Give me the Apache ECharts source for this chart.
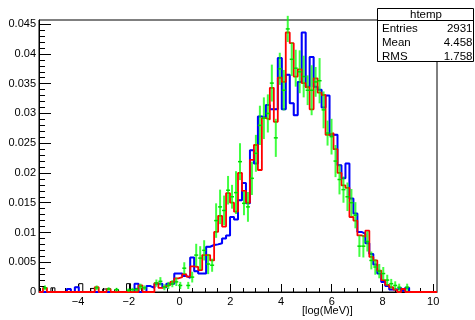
<!DOCTYPE html>
<html><head><meta charset="utf-8">
<script src="https://cdn.jsdelivr.net/npm/echarts@6/dist/echarts.min.js"></script>
<style>html,body{margin:0;padding:0;background:#fff}#c{width:475px;height:320px}</style>
</head><body><div id="c"></div>
<script>
// histogram definition (htemp binning)
const xMin = -5.54, xMax = 10.15, nBins = 100;
const yMin = 0, yMax = 0.0457;
const xTickLabels = [-4, -2, 0, 2, 4, 6, 8, 10];
const xMinorTicks = [-5.5,-5,-4.5,-4,-3.5,-3,-2.5,-2,-1.5,-1,-0.5,0,0.5,1,1.5,2,2.5,3,3.5,4,4.5,5,5.5,6,6.5,7,7.5,8,8.5,9,9.5,10];
const yTickLabels = [0, 0.005, 0.01, 0.015, 0.02, 0.025, 0.03, 0.035, 0.04, 0.045];
const yMinorTicks = [0.001,0.002,0.003,0.004,0.006,0.007,0.008,0.009,0.011,0.012,0.013,0.014,0.016,0.017,0.018,0.019,0.021,0.022,0.023,0.024,0.026,0.027,0.028,0.029,0.031,0.032,0.033,0.034,0.036,0.037,0.038,0.039,0.041,0.042,0.043,0.044];
const xTitle = '[log(MeV)]';
const statsTitle = 'htemp';
const statsNames = ['Entries', 'Mean', 'RMS'];
const statsValues = ['2931', '4.458', '1.758'];

const blackVals = [
0,0,0,0.0007,0,0,0,0.0005,0,0.0008,
0.0014,0,0,0.0006,0,0,0.0005,0,0,0.0004,
0,0,0.0014,0,0.0006,0,0,0.0010,0.0007,0.0014,
0.0014,0.0008,0.0014,0.0014,0.0031,0.0031,0.0027,0.0024,0.0058,0.0035,
0.0031,0.0031,0.0076,0.0079,0.0080,0.0082,0.0090,0.0095,0.0126,0.0122,
0.0154,0.0183,0.0149,0.0238,0.0216,0.0295,0.0293,0.0314,0.0307,0.0307,
0.0393,0.0307,0.0365,0.0317,0.0297,0.0353,0.0436,0.0345,0.0395,0.0345,
0.0340,0.0310,0.0330,0.0264,0.0264,0.0213,0.0191,0.0216,0.0157,0.0132,
0.0101,0.0098,0.0082,0.0064,0.0046,0.0031,0.0017,0.0010,0.0004,0.0004,
0.0007,0.0002,0.0007,0,0,0,0,0,0,0];

const blueVals = [
0,0,0,0,0,0,0,0.0005,0,0.0008,
0,0,0,0,0,0,0,0,0,0,
0,0,0,0,0.0014,0,0,0.0010,0.0007,0.0014,
0.0014,0.0008,0.0014,0.0014,0.0031,0.0031,0.0027,0.0024,0.0058,0.0035,
0.0031,0.0031,0.0076,0.0079,0.0080,0.0082,0.0090,0.0095,0.0126,0.0122,
0.0154,0.0183,0.0149,0.0238,0.0216,0.0295,0.0293,0.0314,0.0307,0.0307,
0.0393,0.0307,0.0365,0.0317,0.0297,0.0353,0.0436,0.0345,0.0395,0.0345,
0.0340,0.0310,0.0330,0.0264,0.0264,0.0213,0.0191,0.0216,0.0157,0.0132,
0.0101,0.0098,0.0082,0.0064,0.0046,0.0031,0.0017,0.0010,0.0004,0.0004,
0.0007,0.0002,0.0007,0,0,0,0,0,0,0];

const redVals = [
0,0.0007,0,0,0,0,0,0,0,0,
0,0,0,0,0.0008,0,0,0.0005,0,0,
0,0,0,0,0,0.0011,0,0,0,0.0015,
0.0007,0.0010,0.0012,0.0017,0.0023,0.0025,0.0030,0.0026,0.0043,0.0042,
0.0037,0.0062,0.0062,0.0053,0.0101,0.0128,0.0110,0.0166,0.0150,0.0135,
0.0200,0.0170,0.0150,0.0222,0.0247,0.0205,0.0292,0.0290,0.0343,0.0286,
0.0360,0.0353,0.0436,0.0418,0.0362,0.0374,0.0351,0.0344,0.0307,0.0359,
0.0335,0.0331,0.0264,0.0267,0.0240,0.0200,0.0179,0.0175,0.0126,0.0120,
0.0095,0.0093,0.0103,0.0059,0.0053,0.0036,0.0020,0.0012,0.0008,0.0004,
0,0.0005,0,0,0,0,0,0,0,0];

const greenVals = [
null,0.0007,null,null,null,null,null,null,null,null,
null,null,null,null,0.0007,null,null,0.0005,null,0.0004,
null,null,0.0003,0.0004,0.0004,0.0009,0.0007,null,null,0.0015,
0.0018,0.0008,0.0011,0.0014,0.0017,0.0011,0.0040,0.0011,0.0025,0.0062,
0.0057,0.0070,0.0047,0.0045,0.0120,0.0143,0.0137,0.0171,0.0160,0.0167,
0.0219,0.0149,0.0143,0.0191,0.0233,0.0280,0.0292,0.0300,0.0351,0.0259,
0.0375,0.0339,0.0442,0.0391,0.0376,0.0370,0.0362,0.0339,0.0339,0.0353,
0.0355,0.0306,0.0267,0.0261,0.0220,0.0189,0.0172,0.0160,0.0150,0.0129,
0.0077,0.0077,0.0085,0.0053,0.0042,0.0035,0.0031,0.0020,0.0014,0.0011,
0.0008,null,0.0008,null,null,null,null,null,null,null];

const greenErrs = [
0,0.0004,0,0,0,0,0,0,0,0,
0,0,0,0,0.0004,0,0,0.0003,0,0.0003,
0,0,0.0003,0.0003,0.0003,0.0005,0.0004,0,0,0.0006,
0.0007,0.0005,0.0006,0.0006,0.0007,0.0006,0.0010,0.0006,0.0009,0.0019,
0.0020,0.0017,0.0017,0.0011,0.0029,0.0029,0.0025,0.0024,0.0020,0.0036,
0.0031,0.0020,0.0025,0.0028,0.0031,0.0033,0.0035,0.0032,0.0031,0.0032,
0.0027,0.0034,0.0022,0.0028,0.0031,0.0036,0.0035,0.0025,0.0042,0.0025,
0.0038,0.0031,0.0021,0.0030,0.0027,0.0025,0.0022,0.0024,0.0023,0.0022,
0.0018,0.0019,0.0017,0.0015,0.0013,0.0012,0.0011,0.0009,0.0008,0.0007,
0.0006,0,0.0006,0,0,0,0,0,0,0];

const binW = (xMax - xMin) / nBins;
function stepData(vals) {
  const d = vals.map((v, i) => [xMin + i * binW, v]);
  d.push([xMax, vals[vals.length - 1]]);
  return d;
}
const greenData = [];
greenVals.forEach((v, i) => { if (v !== null) greenData.push([xMin + (i + 0.5) * binW, v, greenErrs[i]]); });

const FONT = 'Liberation Sans, Arial, Helvetica, sans-serif';
const fmtX = v => (v < 0 ? '\u2212' + (-v) : String(v));
const fmtY = v => String(+Number(v).toFixed(3));

const chart = echarts.init(document.getElementById('c'), null, {renderer: 'canvas'});
function histSeries(name, vals, color, width, z) {
  return {
    name, type: 'line', step: 'end', data: stepData(vals), xAxisIndex: 0, yAxisIndex: 0,
    showSymbol: false, symbol: 'none', clip: true, z,
    lineStyle: {color, width}, emphasis: {disabled: true}, silent: true
  };
}
chart.setOption({
  animation: false,
  backgroundColor: '#fff',
  grid: {left: 39, top: 20, width: 398, height: 272, show: true, borderColor: '#000', borderWidth: 1, backgroundColor: '#fff'},
  xAxis: [{
    type: 'value', min: xMin, max: xMax, position: 'bottom',
    axisLine: {show: true, onZero: false, lineStyle: {color: '#000', width: 1}},
    axisTick: {show: true, inside: true, length: 8, customValues: xTickLabels, lineStyle: {color: '#000'}},
    axisLabel: {show: true, customValues: xTickLabels, formatter: fmtX, color: '#000', fontSize: 11, fontFamily: FONT, margin: 4},
    splitLine: {show: false}
  }, {
    type: 'value', min: xMin, max: xMax, position: 'bottom', gridIndex: 0,
    axisLine: {show: false, onZero: false},
    axisTick: {show: true, inside: true, length: 4, customValues: xMinorTicks, lineStyle: {color: '#000'}},
    axisLabel: {show: false}, splitLine: {show: false}
  }],
  yAxis: [{
    type: 'value', min: yMin, max: yMax, position: 'left',
    axisLine: {show: true, onZero: false, lineStyle: {color: '#000', width: 1}},
    axisTick: {show: true, inside: true, length: 12, customValues: yTickLabels, lineStyle: {color: '#000'}},
    axisLabel: {show: true, customValues: yTickLabels, formatter: fmtY, color: '#000', fontSize: 11, fontFamily: FONT, margin: 3},
    splitLine: {show: false}
  }, {
    type: 'value', min: yMin, max: yMax, position: 'left', gridIndex: 0,
    axisLine: {show: false, onZero: false},
    axisTick: {show: true, inside: true, length: 6, customValues: yMinorTicks, lineStyle: {color: '#000'}},
    axisLabel: {show: false}, splitLine: {show: false}
  }],
  series: [
    histSeries('black', blackVals, '#000000', 1, 2),
    histSeries('blue', blueVals, '#0000ff', 2, 3),
    histSeries('red', redVals, '#ff0000', 1.8, 4),
    {
      name: 'green', type: 'custom', data: greenData, xAxisIndex: 0, yAxisIndex: 0, z: 5, silent: true,
      encode: {x: 0, y: 1},
      renderItem: function (params, api) {
        const x = api.value(0), y = api.value(1), e = api.value(2);
        const pLo = api.coord([x, y - e]), pHi = api.coord([x, y + e]);
        const pL = api.coord([x - binW / 2, y]), pR = api.coord([x + binW / 2, y]);
        return {type: 'group', children: [
          {type: 'line', shape: {x1: pLo[0], y1: pLo[1], x2: pHi[0], y2: pHi[1]}, style: {stroke: 'rgba(0,255,0,0.75)', lineWidth: 2}},
          {type: 'line', shape: {x1: pL[0], y1: pL[1], x2: pR[0], y2: pR[1]}, style: {stroke: '#00dd00', lineWidth: 1.5}}
        ]};
      }
    }
  ],
  graphic: [
    {type: 'text', left: 302, top: 305, z: 10, style: {text: xTitle, fill: '#000', font: '11px ' + FONT}},
    {type: 'rect', z: 20, shape: {x: 377.5, y: 8.5, width: 96, height: 53}, style: {fill: '#fff', stroke: '#000', lineWidth: 1}},
    {type: 'line', z: 21, shape: {x1: 377.5, y1: 20.5, x2: 473.5, y2: 20.5}, style: {stroke: '#000', lineWidth: 1}},
    {type: 'text', z: 22, x: 426, y: 14.5, style: {text: statsTitle, fill: '#000', font: '11.5px ' + FONT, align: 'center', verticalAlign: 'middle'}},
    {type: 'text', z: 22, x: 382, y: 28.5, style: {text: statsNames[0], fill: '#000', font: '11.5px ' + FONT, align: 'left', verticalAlign: 'middle'}},
    {type: 'text', z: 22, x: 382, y: 42.5, style: {text: statsNames[1], fill: '#000', font: '11.5px ' + FONT, align: 'left', verticalAlign: 'middle'}},
    {type: 'text', z: 22, x: 382, y: 56.5, style: {text: statsNames[2], fill: '#000', font: '11.5px ' + FONT, align: 'left', verticalAlign: 'middle'}},
    {type: 'text', z: 22, x: 472.5, y: 28.5, style: {text: statsValues[0], fill: '#000', font: '11.5px ' + FONT, align: 'right', verticalAlign: 'middle'}},
    {type: 'text', z: 22, x: 472.5, y: 42.5, style: {text: statsValues[1], fill: '#000', font: '11.5px ' + FONT, align: 'right', verticalAlign: 'middle'}},
    {type: 'text', z: 22, x: 472.5, y: 56.5, style: {text: statsValues[2], fill: '#000', font: '11.5px ' + FONT, align: 'right', verticalAlign: 'middle'}}
  ]
});
</script></body></html>
